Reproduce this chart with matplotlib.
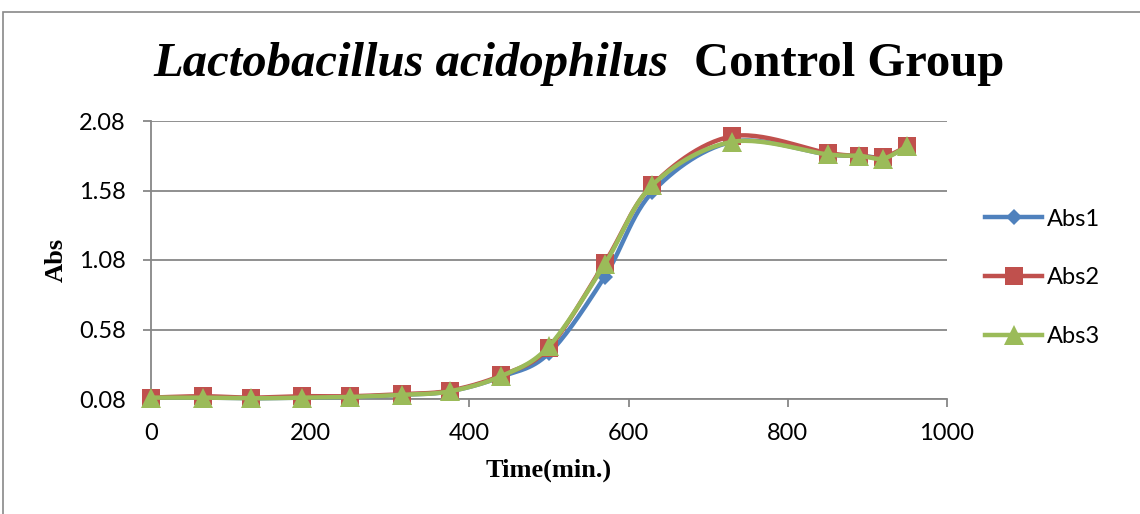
import numpy as np
import matplotlib
matplotlib.use("Agg")
import matplotlib.pyplot as plt
from matplotlib.patches import Rectangle
from matplotlib.lines import Line2D

time_min = [0, 65, 125, 190, 250, 315, 375, 440, 500, 570, 630, 730, 850, 890, 920, 950]
abs1 = [0.09, 0.09, 0.085, 0.09, 0.095, 0.11, 0.135, 0.24, 0.41, 0.96, 1.57, 1.93, 1.84, 1.83, 1.82, 1.89]
abs2 = [0.09, 0.10, 0.09, 0.10, 0.10, 0.115, 0.14, 0.25, 0.45, 1.06, 1.62, 1.97, 1.85, 1.83, 1.82, 1.90]
abs3 = [0.09, 0.09, 0.085, 0.09, 0.095, 0.11, 0.135, 0.245, 0.46, 1.05, 1.62, 1.93, 1.84, 1.83, 1.81, 1.90]
series_names = ["Abs1", "Abs2", "Abs3"]
y_ticks = [0.08, 0.58, 1.08, 1.58, 2.08]
y_tick_labels = ["0.08", "0.58", "1.08", "1.58", "2.08"]
x_ticks = [0, 200, 400, 600, 800, 1000]

colors = ["#4F81BD", "#C0504D", "#9BBB59"]
markers = ["D", "s", "^"]
msizes = [8, 13, 15]


def smooth(x, y, n=30):
    x = np.asarray(x, float)
    y = np.asarray(y, float)
    P = np.column_stack([x, y])
    out = [P[0]]
    for i in range(len(P) - 1):
        p0 = P[i - 1] if i > 0 else P[i]
        p1 = P[i]
        p2 = P[i + 1]
        p3 = P[i + 2] if i + 2 < len(P) else P[i + 1]
        c1 = p1 + (p2 - p0) / 6.0
        c2 = p2 - (p3 - p1) / 6.0
        t = np.linspace(0, 1, n)[1:, None]
        b = ((1 - t) ** 3) * p1 + 3 * ((1 - t) ** 2) * t * c1 + 3 * (1 - t) * t ** 2 * c2 + t ** 3 * p2
        out.extend(b)
    out = np.array(out)
    return out[:, 0], out[:, 1]


fig = plt.figure(figsize=(11.4, 5.14), dpi=100)
W, H = 1140, 514
# outer chart border
fig.patches.append(Rectangle((3 / W, -0.01), 1.2, (H - 12) / H + 0.01, transform=fig.transFigure,
                             fill=False, edgecolor="#898989", linewidth=1.2))

ax = fig.add_axes([151 / W, 1 - 399 / H, (947 - 151) / W, (399 - 121) / H])
ax.set_xlim(0, 1000)
ax.set_ylim(0.08, 2.08)

for ys, c, m, ms, name in zip([abs1, abs2, abs3], colors, markers, msizes, series_names):
    sx, sy = smooth(time_min, ys)
    ax.plot(sx, sy, color=c, linewidth=3.2, solid_capstyle="round", clip_on=False, zorder=3)
    ax.plot(time_min, ys, linestyle="none", marker=m, markersize=ms, color=c,
            markeredgewidth=0, clip_on=False, zorder=3)

ax.set_yticks(y_ticks)
ax.set_yticklabels(y_tick_labels)
ax.set_xticks(x_ticks)
ax.grid(axis="y", color="#878787", linewidth=1.3)
ax.set_axisbelow(True)
for s in ["top", "right"]:
    ax.spines[s].set_visible(False)
for s in ["left", "bottom"]:
    ax.spines[s].set_color("#878787")
    ax.spines[s].set_linewidth(1.3)
ax.tick_params(axis="both", colors="#878787", width=1.3, length=6, labelcolor="black",
               labelsize=17)
ax.tick_params(axis="x", pad=11)
ax.tick_params(axis="y", pad=12)
for lab in ax.get_xticklabels() + ax.get_yticklabels():
    lab.set_family("Lato")

ax.set_xlabel("Time(min.)", family="Liberation Serif", fontweight="bold", fontsize=19, labelpad=11)
ax.set_ylabel("Abs", family="Liberation Serif", fontweight="bold", fontsize=19, labelpad=8)

# title
fig.text(668 / W, 1 - 64 / H, "Lactobacillus acidophilus", ha="right", va="center",
         family="Liberation Serif", fontweight="bold", style="italic", fontsize=35)
fig.text(694 / W, 1 - 64 / H, "Control Group", ha="left", va="center",
         family="Liberation Serif", fontweight="bold", fontsize=35)

handles = [Line2D([], [], color=c, marker=m, markersize=ms, linewidth=3.2, markeredgewidth=0)
           for c, m, ms in zip(colors, markers, msizes)]
leg = fig.legend(handles, series_names, loc="center left", bbox_to_anchor=(964 / W, 1 - 278 / H),
                 frameon=False, prop={"family": "Lato", "size": 17}, labelspacing=1.6,
                 handlelength=2.4, handletextpad=0.2)

fig.savefig("out.png", dpi=100)
